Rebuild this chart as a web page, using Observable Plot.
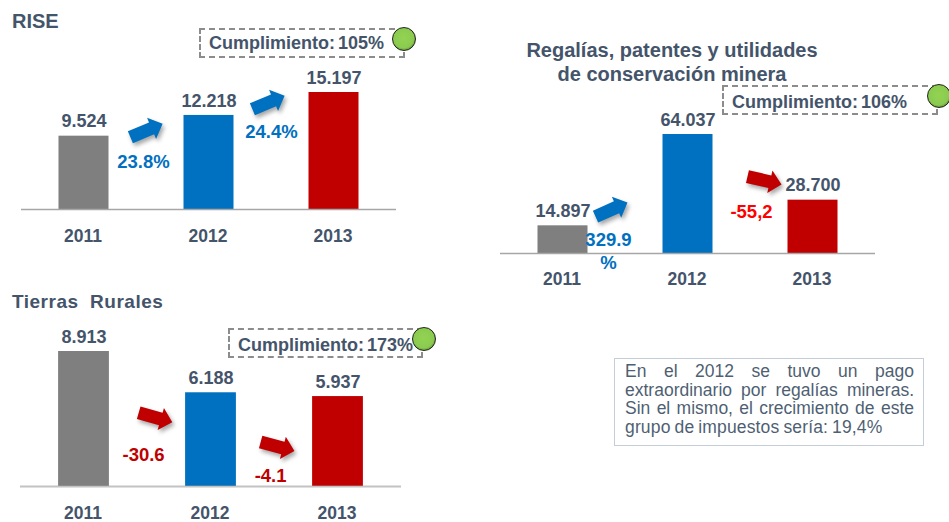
<!DOCTYPE html>
<html>
<head>
<meta charset="utf-8">
<script src="https://cdn.jsdelivr.net/npm/d3@7"></script>
<script src="https://cdn.jsdelivr.net/npm/@observablehq/plot@0.6"></script>
<style>
html,body{margin:0;padding:0;background:#fff}
#page{position:relative;width:949px;height:522px;overflow:hidden;font-family:"Liberation Sans",Arial,sans-serif;color:#44546a}
#page svg{position:absolute;background:transparent}
.title{position:absolute;font-weight:bold;font-size:20px;line-height:24px;white-space:nowrap}
.callout{position:absolute;box-sizing:border-box;border:2px dashed #8c8c8c;font-weight:bold;font-size:18px;line-height:27px;padding-left:8px;white-space:nowrap;word-spacing:-2px}
.ball{position:absolute;box-sizing:border-box;width:24px;height:24px;border-radius:50%;border:1px solid #20241a;background:radial-gradient(circle at 48% 45%,#93d352 0%,#8acb50 60%,#5f8a33 78%,#2c3320 100%)}
#note{position:absolute;box-sizing:border-box;left:614px;top:358px;width:310px;height:88px;border:1.5px solid #c3ced9;padding:3px 9px 0 10px;font-size:17.5px;line-height:18.7px;color:#4f5f73}
#note div{text-align:justify;text-align-last:justify;white-space:nowrap}
#note div:last-child{text-align-last:left;word-spacing:-1px;letter-spacing:.15px}
</style>
</head>
<body>
<div id="page"></div>
<script>
const years = [2011, 2012, 2013];
const barColors = ["#7f7f7f", "#0070c0", "#c00000"];

const riseValues = [9524, 12218, 15197];
const riseChanges = ["23.8%", "24.4%"];
const regaliasValues = [14897, 64037, 28700];
const regaliasChanges = ["329.9\n%", "-55,2"];
const tierrasValues = [8913, 6188, 5937];
const tierrasChanges = ["-30.6", "-4.1"];

const noteLines = [
  "En el 2012 se tuvo un pago",
  "extraordinario por regalías mineras.",
  "Sin el mismo, el crecimiento de este",
  "grupo de impuestos sería: 19,4%"
];

const dotted = d3.formatLocale({decimal: ",", thousands: ".", grouping: [3], currency: ["", ""]}).format(",");
const blockArrow = {
  draw(ctx, l) {
    const w = 6.5, hw = 11.5, hl = 12;
    ctx.moveTo(-w, 0);
    ctx.lineTo(-w, -l + hl);
    ctx.lineTo(-hw, -l + hl);
    ctx.lineTo(0, -l);
    ctx.lineTo(hw, -l + hl);
    ctx.lineTo(w, -l + hl);
    ctx.lineTo(w, 0);
    ctx.closePath();
  }
};

const page = document.getElementById("page");

function panel({values, changes, left, top, width, height, marginLeft, marginRight, marginBottom, marginTop, axisStroke, axisWidth, labelAt, labelColors, arrowAt, arrowAngles, arrowColors, tickPadding}) {
  const rows = years.map((year, i) => ({year, value: values[i]}));
  const labels = changes.map((text, i) => ({text, x: labelAt[i][0], y: labelAt[i][1], color: labelColors[i]}));
  const arrows = arrowAt.map((p, i) => ({x: p[0], y: p[1], rotate: arrowAngles[i], color: arrowColors[i]}));
  const chart = Plot.plot({
    width, height, marginLeft, marginRight, marginBottom, marginTop,
    style: {fontFamily: '"Liberation Sans", Arial, sans-serif', background: "transparent"},
    x: {domain: [2010.5, 2013.5]},
    y: {domain: [0, d3.max(values)], axis: null},
    color: {type: "ordinal", domain: years, range: barColors},
    marks: [
      Plot.rectY(rows, {x1: d => d.year - 0.2, x2: d => d.year + 0.2, y: "value", fill: "year"}),
      Plot.ruleY([0], {stroke: axisStroke, strokeWidth: axisWidth}),
      Plot.axisX(years, {tickSize: 0, tickPadding, tickFormat: "d", fontSize: 17.5, fontWeight: "bold", fill: "#44546a", lineAnchor: "top", dx: -1}),
      Plot.text(rows, {x: "year", y: "value", text: d => dotted(d.value), dy: -14.5, fontSize: 18, fontWeight: "bold", fill: "#44546a"}),
      Plot.text(labels, {x: "x", y: "y", text: "text", fill: d => d.color, fontSize: 18.5, fontWeight: "bold", lineHeight: 1.25}),
      Plot.vector(arrows, {x: "x", y: "y", rotate: "rotate", length: 35, anchor: "middle", shape: blockArrow, fill: d => d.color, stroke: "none", imageFilter: "drop-shadow(2px 3px 2px rgba(0,0,0,.35))"})
    ]
  });
  chart.style.left = left + "px";
  chart.style.top = top + "px";
  page.appendChild(chart);
}

panel({
  values: riseValues, changes: riseChanges,
  left: 0, top: 0, width: 475, height: 260, marginLeft: 21, marginRight: 79, marginBottom: 51, marginTop: 92,
  axisStroke: "#a6a6a6", axisWidth: 1.5, tickPadding: 20,
  labelAt: [[2011.476, 6364], [2012.5, 10260]], labelColors: ["#0070c0", "#0070c0"],
  arrowAt: [[2011.5, 10260], [2012.476, 13896]], arrowAngles: [67, 67], arrowColors: ["#0070c0", "#0070c0"]
});
panel({
  values: regaliasValues, changes: regaliasChanges,
  left: 475, top: 0, width: 474, height: 300, marginLeft: 25, marginRight: 74, marginBottom: 47, marginTop: 134,
  axisStroke: "#a6a6a6", axisWidth: 1.5, tickPadding: 19,
  labelAt: [[2011.364, 1884], [2012.508, 23140]], labelColors: ["#0070c0", "#ff0000"],
  arrowAt: [[2011.388, 23680], [2012.612, 39290]], arrowAngles: [66, 103], arrowColors: ["#0070c0", "#c00000"]
});
panel({
  values: tierrasValues, changes: tierrasChanges,
  left: 0, top: 260, width: 475, height: 262, marginLeft: 20, marginRight: 74, marginBottom: 36, marginTop: 91,
  axisStroke: "rgba(170,170,170,.7)", axisWidth: 2, tickPadding: 20,
  labelAt: [[2011.469, 2179], [2012.469, 792]], labelColors: ["#c00000", "#c00000"],
  arrowAt: [[2011.563, 4555], [2012.524, 2641]], arrowAngles: [106, 105], arrowColors: ["#c00000", "#c00000"]
});

function addEl(cls, css, html) {
  const el = document.createElement("div");
  el.className = cls;
  el.style.cssText = css;
  el.innerHTML = html;
  page.appendChild(el);
}
addEl("title", "left:12px;top:9px", "RISE");
addEl("title", "left:472px;top:38px;width:400px;text-align:center", "Regalías, patentes y utilidades<br>de conservación minera");
addEl("title", "left:12px;top:290px;font-size:19px;letter-spacing:.5px", "Tierras&nbsp; Rurales");
addEl("callout", "left:199px;top:28px;width:206px;height:30px", "Cumplimiento: 105%");
addEl("callout", "left:722px;top:85px;width:216px;height:30px;line-height:30px", "Cumplimiento: 106%");
addEl("callout", "left:228px;top:328px;width:195px;height:30px;line-height:30px", "Cumplimiento: 173%");
addEl("ball", "left:392px;top:27px", "");
addEl("ball", "left:927px;top:84px", "");
addEl("ball", "left:412px;top:327px", "");
const note = document.createElement("div");
note.id = "note";
noteLines.forEach(t => { const d = document.createElement("div"); d.textContent = t; note.appendChild(d); });
page.appendChild(note);
</script>
</body>
</html>
